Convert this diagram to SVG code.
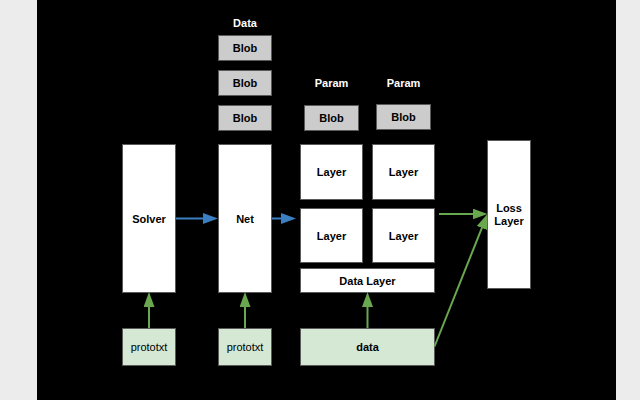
<svg xmlns="http://www.w3.org/2000/svg" width="640" height="400" viewBox="0 0 640 400">
<style>
text{font-family:"Liberation Sans",Arial,sans-serif;font-size:11px;text-anchor:middle}
.b{font-weight:bold}
.w{fill:#ffffff}
.k{fill:#000000}
.box{fill:#ffffff;stroke:#5a5a5a;stroke-width:1}
.blob{fill:#cccccc;stroke:#5a5a5a;stroke-width:1}
.grn{fill:#d5e8d4;stroke:#5a5a5a;stroke-width:1}
.ab{fill:none;stroke:#3b7fc2;stroke-width:2;marker-end:url(#mb)}
.ag{fill:none;stroke:#6aa84f;stroke-width:2;marker-end:url(#mg)}
</style>
<defs>
<marker id="mb" markerUnits="userSpaceOnUse" markerWidth="16" markerHeight="12" refX="7" refY="5.5" orient="auto"><path d="M0,0 L15,5.5 L0,11 Z" fill="#3b7fc2"/></marker>
<marker id="mg" markerUnits="userSpaceOnUse" markerWidth="16" markerHeight="12" refX="7" refY="5.5" orient="auto"><path d="M0,0 L15,5.5 L0,11 Z" fill="#6aa84f"/></marker>
</defs>
<rect x="0" y="0" width="640" height="400" fill="#ececec"/>
<rect x="37" y="0" width="579" height="400" fill="#000000"/>

<g id="label-data"><text class="b w" x="245" y="27">Data</text></g>
<g id="label-param1"><text class="b w" x="331.5" y="87">Param</text></g>
<g id="label-param2"><text class="b w" x="403.5" y="87">Param</text></g>

<g id="blob1"><rect class="blob" x="218.5" y="35.5" width="53" height="25"/><text class="b k" x="245" y="52">Blob</text></g>
<g id="blob2"><rect class="blob" x="218.5" y="70.5" width="53" height="25"/><text class="b k" x="245" y="87">Blob</text></g>
<g id="blob3"><rect class="blob" x="218.5" y="105.5" width="53" height="25"/><text class="b k" x="245" y="122">Blob</text></g>
<g id="param-blob1"><rect class="blob" x="304.5" y="105.5" width="54" height="25"/><text class="b k" x="331.5" y="122">Blob</text></g>
<g id="param-blob2"><rect class="blob" x="376.5" y="104.5" width="54" height="25"/><text class="b k" x="403.5" y="121">Blob</text></g>

<g id="solver"><rect class="box" x="122.5" y="144.5" width="53" height="148"/><text class="b k" x="149" y="222.5">Solver</text></g>
<g id="net"><rect class="box" x="218.5" y="144.5" width="53" height="148"/><text class="b k" x="245" y="222.5">Net</text></g>
<g id="layer1"><rect class="box" x="300.5" y="144.5" width="62" height="55"/><text class="b k" x="331.5" y="176">Layer</text></g>
<g id="layer2"><rect class="box" x="372.5" y="144.5" width="62" height="55"/><text class="b k" x="403.5" y="176">Layer</text></g>
<g id="layer3"><rect class="box" x="300.5" y="208.5" width="62" height="54"/><text class="b k" x="331.5" y="240">Layer</text></g>
<g id="layer4"><rect class="box" x="372.5" y="208.5" width="62" height="54"/><text class="b k" x="403.5" y="240">Layer</text></g>
<g id="data-layer"><rect class="box" x="300.5" y="268.5" width="134" height="24"/><text class="b k" x="367.5" y="285">Data Layer</text></g>
<g id="loss-layer"><rect class="box" x="487.5" y="140.5" width="43" height="148"/><text class="b k" x="509" y="212">Loss</text><text class="b k" x="509" y="225">Layer</text></g>

<g id="prototxt1"><rect class="grn" x="122.5" y="328.5" width="53" height="37"/><text class="k" x="149" y="351">prototxt</text></g>
<g id="prototxt2"><rect class="grn" x="218.5" y="328.5" width="53" height="37"/><text class="k" x="245" y="351">prototxt</text></g>
<g id="data"><rect class="grn" x="300.5" y="328.5" width="134" height="37"/><text class="b k" x="367.5" y="351">data</text></g>

<g id="connectors">
<path class="ab" d="M176,218.5 L210,218.5"/>
<path class="ab" d="M272,218.5 L288,218.5"/>
<path class="ag" d="M149,328 L149,300"/>
<path class="ag" d="M245,328 L245,300"/>
<path class="ag" d="M367.5,328 L367.5,300"/>
<path class="ag" d="M439,214 L479.5,214"/>
<path class="ag" d="M434.5,346.5 L484.5,221.4"/>
</g>
</svg>
